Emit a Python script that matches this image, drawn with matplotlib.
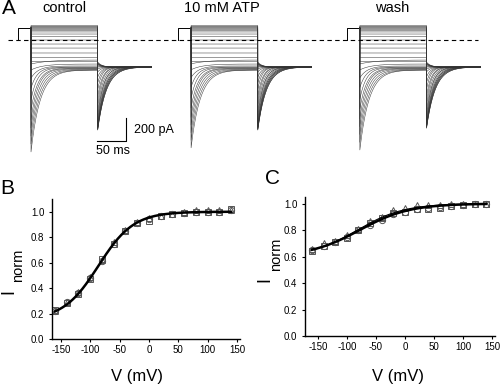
import numpy as np
import matplotlib.pyplot as plt

plt.rcParams['font.family'] = ['Liberation Sans', 'DejaVu Sans']
plt.rcParams['axes.unicode_minus'] = False

# ---- panel A: current families (ms, pA) ----
step_end = 115
tail_end = 208
step_ss = [126, 119, 113, 106, 99, 91, 83, 70, 52, 30, 0, -35, -70, -113, -152, -187,
           -174, -209, -226, -235, -239, -244, -248, -252, -257, -261, -261]
step_peak = [126, 119, 113, 106, 99, 91, 83, 70, 52, 30, 0, -35, -70, -113, -152, -187,
             -209, -261, -331, -418, -522, -609, -696, -766, -835, -905, -974]
step_tau = [10] * 16 + [28, 20, 13, 11, 11, 12, 12, 13, 14, 15, 16]
tail_peak = [-783, -783, -774, -774, -766, -757, -748, -731, -713, -687, -653, -609, -557, -496, -435, -374,
             -322, -278, -252, -235, -226, -218, -209, -209, -200, -200, -191]
tail_tau = [15, 15, 14, 14, 13, 13, 12, 12, 11, 10, 10, 9, 8, 8, 7, 7] + [7] * 11
tail_ss = -235
prestep_level = 104
prestep_start = -22

conditions = ['control', '10 mM ATP', 'wash']
cond_offset = [0, 276, 567]
cond_step_scale = [1.0, 0.95, 0.976]
cond_tail_scale = [1.0, 1.0, 0.97]

# ---- panels B and C: normalized current vs voltage ----
V = [-160, -140, -120, -100, -80, -60, -40, -20, 0, 20, 40, 60, 80, 100, 120, 140]
b_circle = [0.22, 0.29, 0.36, 0.48, 0.61, 0.75, 0.85, 0.91, 0.94, 0.97, 0.98, 0.99, 1.00, 1.00, 1.00, 1.01]
b_square = [0.23, 0.28, 0.35, 0.47, 0.63, 0.75, 0.85, 0.91, 0.93, 0.97, 0.98, 0.99, 1.00, 1.00, 1.00, 1.02]
b_triangle = [0.22, 0.29, 0.37, 0.49, 0.62, 0.76, 0.86, 0.92, 0.95, 0.97, 0.98, 1.00, 1.01, 1.01, 1.01, 1.01]
c_circle = [0.65, 0.68, 0.71, 0.75, 0.80, 0.84, 0.88, 0.92, 0.94, 0.96, 0.97, 0.975, 0.98, 0.99, 1.00, 1.00]
c_square = [0.64, 0.68, 0.71, 0.74, 0.80, 0.85, 0.89, 0.93, 0.94, 0.96, 0.96, 0.97, 0.98, 0.99, 1.00, 1.00]
c_triangle = [0.66, 0.70, 0.72, 0.76, 0.81, 0.87, 0.90, 0.95, 0.97, 0.99, 0.99, 0.99, 1.00, 1.00, 1.00, 1.00]

# Boltzmann fits: (Imin, V half, slope)
b_fits = [(0.15, -86, 30)]
c_fits = [(0.60, -78, 43), (0.60, -82, 40)]
c_fit_widths = [1.8, 0.8]


def boltzmann(v, imin, vh, k):
    return imin + (1 - imin) / (1 + np.exp((vh - v) / k))


W, H = 500, 387
fig = plt.figure(figsize=(W / 100, H / 100), dpi=100)


def px(x, y):
    return x / W, 1 - y / H


# panel A axes spans the top 170 px; 0.58 px per ms, 8.7 pA per px, zero at y=40
axA = fig.add_axes([0, 1 - 170 / H, 1, 170 / H])
axA.set_xlim(-31 / 0.58, 469 / 0.58)
axA.set_ylim(-130 * 8.7, 40 * 8.7)
axA.axis('off')

t1 = np.linspace(0, step_end, 300)
t2 = np.linspace(step_end, tail_end, 250)
for off, sscale, tscale in zip(cond_offset, cond_step_scale, cond_tail_scale):
    axA.plot([off + prestep_start, off + prestep_start, off], [0, prestep_level, prestep_level],
             color='black', lw=0.7)
    for i in range(len(step_ss)):
        amp = (step_peak[i] - step_ss[i]) * sscale
        i1 = step_ss[i] + amp * np.exp(-t1 / step_tau[i])
        tamp = (tail_peak[i] - tail_ss) * tscale
        i2 = tail_ss + tamp * np.exp(-(t2 - step_end) / tail_tau[i])
        tt = np.concatenate([[off], off + t1, off + t2])
        ii = np.concatenate([[prestep_level], i1, i2])
        axA.plot(tt, ii, color='#333333', lw=0.35)

axA.plot([-40, 771], [0, 0], color='black', lw=0.8, ls=(0, (4, 3)))

# scale bar
sb_t, sb_i = 164, -879
axA.plot([sb_t - 50, sb_t, sb_t], [sb_i, sb_i, sb_i + 200], color='black', lw=0.8)

fig.text(*px(134, 130), '200 pA', fontsize=9, ha='left', va='center')
fig.text(*px(113, 151), '50 ms', fontsize=9, ha='center', va='center')
fig.text(*px(64, 8), conditions[0], fontsize=10.5, ha='center', va='center')
fig.text(*px(222, 8), conditions[1], fontsize=10.5, ha='center', va='center')
fig.text(*px(392, 8), conditions[2], fontsize=10.5, ha='center', va='center')

fig.text(*px(9, 9), 'A', fontsize=15, ha='center', va='center')
fig.text(*px(7, 189), 'B', fontsize=15, ha='center', va='center')
fig.text(*px(273, 178), 'C', fontsize=15, ha='center', va='center')


def iv_axes(rect, xlim, ylim, series, fits, widths):
    ax = fig.add_axes(rect)
    vv = np.linspace(V[0], V[-1], 200)
    for (imin, vh, k), lw in zip(fits, widths):
        ax.plot(vv, boltzmann(vv, imin, vh, k), color='black', lw=lw, zorder=3)
    for vals, mk in series:
        ax.plot(V, vals, ls='none', marker=mk, ms=4.5, mfc='none', mec='#555555', mew=0.7, zorder=2)
    ax.set_xlim(*xlim)
    ax.set_ylim(*ylim)
    ax.set_xticks([-150, -100, -50, 0, 50, 100, 150])
    ax.set_yticks([0, 0.2, 0.4, 0.6, 0.8, 1.0])
    ax.set_yticklabels(['0.0', '0.2', '0.4', '0.6', '0.8', '1.0'])
    ax.spines['top'].set_visible(False)
    ax.spines['right'].set_visible(False)
    for s in ('left', 'bottom'):
        ax.spines[s].set_linewidth(1.0)
    ax.tick_params(labelsize=7, length=2.5, width=0.8)
    ax.tick_params(axis='x', pad=2)
    ax.tick_params(axis='y', pad=3)
    return ax


iv_axes([52 / W, 1 - 339 / H, 188 / W, 140 / H], (-165, 155), (0, 1.1),
        [(b_circle, 'o'), (b_square, 's'), (b_triangle, '^')], b_fits, [1.8])
iv_axes([305 / W, 1 - 336 / H, 190 / W, 139 / H], (-172, 155), (0, 1.05),
        [(c_circle, 'o'), (c_square, 's'), (c_triangle, '^')], c_fits, c_fit_widths)

# axis labels
fig.text(*px(137, 376), 'V (mV)', fontsize=12, ha='center', va='center')
fig.text(*px(398, 376), 'V (mV)', fontsize=12, ha='center', va='center')
fig.text(*px(9, 291), 'I', fontsize=13, rotation=90, ha='center', va='center')
fig.text(*px(18, 265), 'norm', fontsize=10.5, rotation=90, ha='center', va='center')
fig.text(*px(265, 280), 'I', fontsize=13, rotation=90, ha='center', va='center')
fig.text(*px(276, 254), 'norm', fontsize=10.5, rotation=90, ha='center', va='center')

fig.savefig('out.png', dpi=100)
